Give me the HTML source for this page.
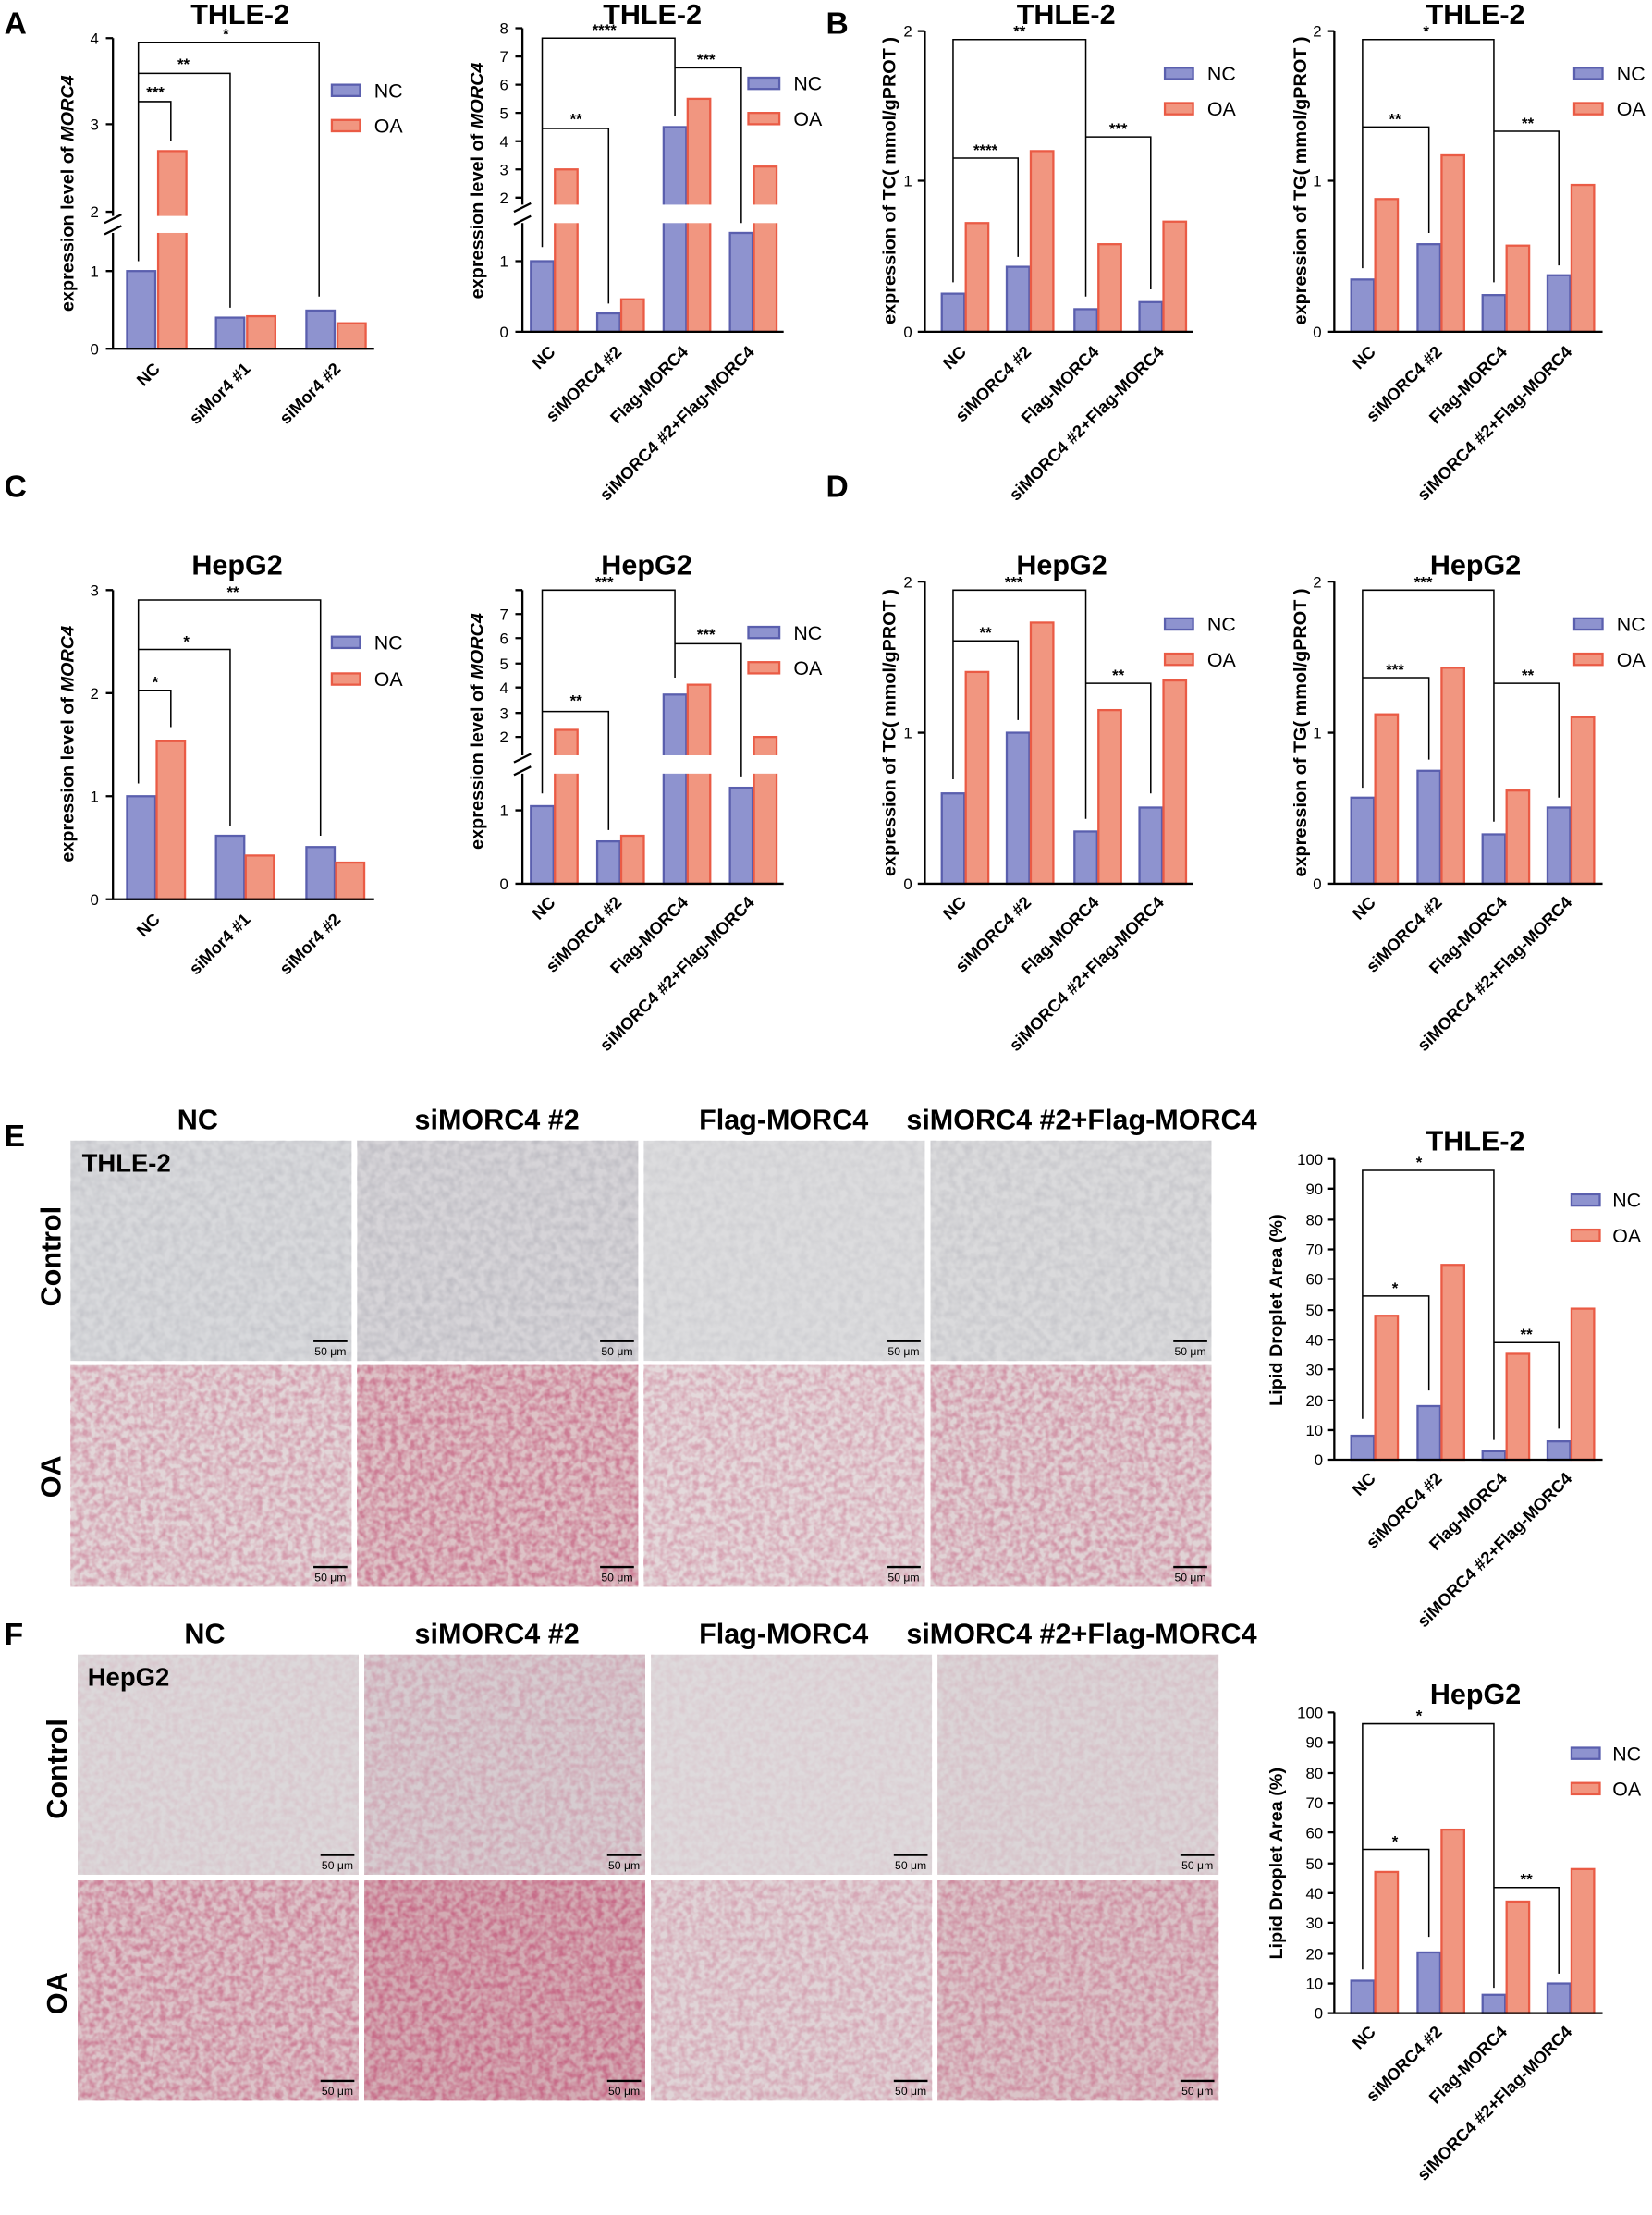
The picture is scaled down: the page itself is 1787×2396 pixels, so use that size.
<!DOCTYPE html>
<html><head><meta charset="utf-8"><style>
html,body{margin:0;padding:0;background:#fff}
svg{display:block}
text{font-family:"Liberation Sans",Arial,sans-serif;fill:#000}
.n{fill:#8e93cf;stroke:#5a5fae;stroke-width:1.5}
.o{fill:#f19680;stroke:#ea5b45;stroke-width:1.5}
.ax{stroke:#000;stroke-width:1.5;fill:none}
.br{stroke:#000;stroke-width:1;fill:none}
.t{font-size:20px;font-weight:bold}
.tk{font-size:11px}
.xl{font-size:12px;font-weight:bold}
.yl{font-size:13px;font-weight:bold}
.lg{font-size:14px}
.st{font-size:11px;font-weight:bold}
.pl{font-size:22px;font-weight:bold}
.h{font-size:20px;font-weight:bold}
</style></head><body>
<svg width="1787" height="2396" viewBox="0 0 1170 1569" preserveAspectRatio="none" xmlns="http://www.w3.org/2000/svg">
<defs>
<filter id="nz" x="0" y="0" width="100%" height="100%"><feTurbulence type="fractalNoise" baseFrequency="0.18" numOctaves="2" seed="3"/><feColorMatrix type="matrix" values="0 0 0 0 0.3  0 0 0 0 0.3  0 0 0 0 0.35  0 0 0 -1.6 1.1"/></filter>
<filter id="nr" x="0" y="0" width="100%" height="100%"><feTurbulence type="fractalNoise" baseFrequency="0.22" numOctaves="2" seed="7"/><feColorMatrix type="matrix" values="0 0 0 0 0.55  0 0 0 0 0.1  0 0 0 0 0.2  0 0 0 -2.2 1.5"/></filter>
</defs>

<text x="3" y="24" class="pl">A</text><text x="585" y="24" class="pl">B</text>
<text x="3" y="352" class="pl">C</text><text x="585" y="352" class="pl">D</text>
<text x="3" y="812" class="pl">E</text><text x="3" y="1165" class="pl">F</text>

<!-- ===== A1 ===== -->
<text x="170" y="17" class="t" text-anchor="middle">THLE-2</text>
<text transform="translate(52,137) rotate(-90)" class="yl" text-anchor="middle">expression level of <tspan font-style="italic">MORC4</tspan></text>
<rect x="90" y="192" width="20" height="55" class="n"/><rect x="112" y="107" width="20" height="140" class="o"/>
<rect x="153" y="225" width="20" height="22" class="n"/><rect x="175" y="224" width="20" height="23" class="o"/>
<rect x="217" y="220" width="20" height="27" class="n"/><rect x="239" y="229" width="20" height="18" class="o"/>
<rect x="82" y="153" width="185" height="12" fill="#fff"/>
<path class="ax" d="M80 27V153M80 165V247H265M75 247H80M75 192H80M75 150H80M75 88H80M75 27H80M74 158L86 152M74 166L86 160"/>
<text x="70" y="251" class="tk" text-anchor="end">0</text><text x="70" y="196" class="tk" text-anchor="end">1</text><text x="70" y="154" class="tk" text-anchor="end">2</text><text x="70" y="92" class="tk" text-anchor="end">3</text><text x="70" y="31" class="tk" text-anchor="end">4</text>
<path class="br" d="M98 185V30H226V210M98 185V52H163V218M98 185V72H121V100"/>
<text x="160" y="28" class="st" text-anchor="middle">*</text><text x="130" y="49" class="st" text-anchor="middle">**</text><text x="110" y="69" class="st" text-anchor="middle">***</text>
<text transform="translate(114,262) rotate(-45)" class="xl" text-anchor="end">NC</text>
<text transform="translate(178,262) rotate(-45)" class="xl" text-anchor="end">siMor4 #1</text>
<text transform="translate(242,262) rotate(-45)" class="xl" text-anchor="end">siMor4 #2</text>
<rect x="235" y="60" width="20" height="8" class="n"/><text x="265" y="69" class="lg">NC</text>
<rect x="235" y="85" width="20" height="8" class="o"/><text x="265" y="94" class="lg">OA</text>

<!-- ===== A2 ===== -->
<text x="462" y="17" class="t" text-anchor="middle">THLE-2</text>
<text transform="translate(342,128) rotate(-90)" class="yl" text-anchor="middle">expression level of <tspan font-style="italic">MORC4</tspan></text>
<rect x="376" y="185" width="16" height="50" class="n"/><rect x="393" y="120" width="16" height="115" class="o"/>
<rect x="423" y="222" width="16" height="13" class="n"/><rect x="440" y="212" width="16" height="23" class="o"/>
<rect x="470" y="90" width="16" height="145" class="n"/><rect x="487" y="70" width="16" height="165" class="o"/>
<rect x="517" y="165" width="16" height="70" class="n"/><rect x="534" y="118" width="16" height="117" class="o"/>
<rect x="372" y="145" width="185" height="13" fill="#fff"/>
<path class="ax" d="M370 20V145M370 158V235H555M365 235H370M365 185H370M365 140H370M365 120H370M365 100H370M365 80H370M365 60H370M365 40H370M365 20H370M364 150L376 144M364 159L376 153"/>
<text x="360" y="239" class="tk" text-anchor="end">0</text><text x="360" y="189" class="tk" text-anchor="end">1</text>
<text x="360" y="144" class="tk" text-anchor="end">2</text><text x="360" y="124" class="tk" text-anchor="end">3</text><text x="360" y="104" class="tk" text-anchor="end">4</text><text x="360" y="84" class="tk" text-anchor="end">5</text><text x="360" y="64" class="tk" text-anchor="end">6</text><text x="360" y="44" class="tk" text-anchor="end">7</text><text x="360" y="24" class="tk" text-anchor="end">8</text>
<path class="br" d="M384 175V27H478V82M384 175V91H431V215M478 80V48H525V158"/>
<text x="428" y="25" class="st" text-anchor="middle">****</text><text x="408" y="88" class="st" text-anchor="middle">**</text><text x="500" y="46" class="st" text-anchor="middle">***</text>
<text transform="translate(394,250) rotate(-45)" class="xl" text-anchor="end">NC</text>
<text transform="translate(441,250) rotate(-45)" class="xl" text-anchor="end">siMORC4 #2</text>
<text transform="translate(488,250) rotate(-45)" class="xl" text-anchor="end">Flag-MORC4</text>
<text transform="translate(535,250) rotate(-45)" class="xl" text-anchor="end">siMORC4 #2+Flag-MORC4</text>
<rect x="530" y="55" width="22" height="8" class="n"/><text x="562" y="64" class="lg">NC</text>
<rect x="530" y="80" width="22" height="8" class="o"/><text x="562" y="89" class="lg">OA</text>

<!-- ===== B1 ===== -->
<text x="755" y="17" class="t" text-anchor="middle">THLE-2</text>
<text transform="translate(634,128) rotate(-90)" class="yl" text-anchor="middle">expression of TC( mmol/gPROT )</text>
<rect x="667" y="208" width="16" height="27" class="n"/><rect x="684" y="158" width="16" height="77" class="o"/>
<rect x="713" y="189" width="16" height="46" class="n"/><rect x="730" y="107" width="16" height="128" class="o"/>
<rect x="761" y="219" width="16" height="16" class="n"/><rect x="778" y="173" width="16" height="62" class="o"/>
<rect x="807" y="214" width="16" height="21" class="n"/><rect x="824" y="157" width="16" height="78" class="o"/>
<path class="ax" d="M655 22V235H845M650 235H655M650 128H655M650 22H655"/>
<text x="646" y="239" class="tk" text-anchor="end">0</text><text x="646" y="132" class="tk" text-anchor="end">1</text><text x="646" y="26" class="tk" text-anchor="end">2</text>
<path class="br" d="M675 200V28H769V210M675 200V112H721V182M769 210V97H815V205"/>
<text x="722" y="26" class="st" text-anchor="middle">**</text><text x="698" y="110" class="st" text-anchor="middle">****</text><text x="792" y="95" class="st" text-anchor="middle">***</text>
<text transform="translate(685,250) rotate(-45)" class="xl" text-anchor="end">NC</text>
<text transform="translate(731,250) rotate(-45)" class="xl" text-anchor="end">siMORC4 #2</text>
<text transform="translate(779,250) rotate(-45)" class="xl" text-anchor="end">Flag-MORC4</text>
<text transform="translate(825,250) rotate(-45)" class="xl" text-anchor="end">siMORC4 #2+Flag-MORC4</text>
<rect x="825" y="48" width="20" height="8" class="n"/><text x="855" y="57" class="lg">NC</text>
<rect x="825" y="73" width="20" height="8" class="o"/><text x="855" y="82" class="lg">OA</text>

<!-- ===== B2 ===== -->
<text x="1045" y="17" class="t" text-anchor="middle">THLE-2</text>
<text transform="translate(925,128) rotate(-90)" class="yl" text-anchor="middle">expression of TG( mmol/gPROT )</text>
<rect x="957" y="198" width="16" height="37" class="n"/><rect x="974" y="141" width="16" height="94" class="o"/>
<rect x="1004" y="173" width="16" height="62" class="n"/><rect x="1021" y="110" width="16" height="125" class="o"/>
<rect x="1050" y="209" width="16" height="26" class="n"/><rect x="1067" y="174" width="16" height="61" class="o"/>
<rect x="1096" y="195" width="16" height="40" class="n"/><rect x="1113" y="131" width="16" height="104" class="o"/>
<path class="ax" d="M945 22V235H1135M940 235H945M940 128H945M940 22H945"/>
<text x="936" y="239" class="tk" text-anchor="end">0</text><text x="936" y="132" class="tk" text-anchor="end">1</text><text x="936" y="26" class="tk" text-anchor="end">2</text>
<path class="br" d="M965 190V28H1058V200M965 190V90H1012V165M1058 200V93H1104V188"/>
<text x="1010" y="26" class="st" text-anchor="middle">*</text><text x="988" y="88" class="st" text-anchor="middle">**</text><text x="1082" y="91" class="st" text-anchor="middle">**</text>
<text transform="translate(975,250) rotate(-45)" class="xl" text-anchor="end">NC</text>
<text transform="translate(1022,250) rotate(-45)" class="xl" text-anchor="end">siMORC4 #2</text>
<text transform="translate(1068,250) rotate(-45)" class="xl" text-anchor="end">Flag-MORC4</text>
<text transform="translate(1114,250) rotate(-45)" class="xl" text-anchor="end">siMORC4 #2+Flag-MORC4</text>
<rect x="1115" y="48" width="20" height="8" class="n"/><text x="1145" y="57" class="lg">NC</text>
<rect x="1115" y="73" width="20" height="8" class="o"/><text x="1145" y="82" class="lg">OA</text>

<!-- ===== C1 ===== -->
<text x="168" y="407" class="t" text-anchor="middle">HepG2</text>
<text transform="translate(52,527) rotate(-90)" class="yl" text-anchor="middle">expression level of <tspan font-style="italic">MORC4</tspan></text>
<rect x="90" y="564" width="20" height="73" class="n"/><rect x="111" y="525" width="20" height="112" class="o"/>
<rect x="153" y="592" width="20" height="45" class="n"/><rect x="174" y="606" width="20" height="31" class="o"/>
<rect x="217" y="600" width="20" height="37" class="n"/><rect x="238" y="611" width="20" height="26" class="o"/>
<path class="ax" d="M80 418V637H265M75 637H80M75 564H80M75 491H80M75 418H80"/>
<text x="70" y="641" class="tk" text-anchor="end">0</text><text x="70" y="568" class="tk" text-anchor="end">1</text><text x="70" y="495" class="tk" text-anchor="end">2</text><text x="70" y="422" class="tk" text-anchor="end">3</text>
<path class="br" d="M98 555V425H227V592M98 555V460H163V585M98 555V489H121V515"/>
<text x="165" y="423" class="st" text-anchor="middle">**</text><text x="132" y="458" class="st" text-anchor="middle">*</text><text x="110" y="487" class="st" text-anchor="middle">*</text>
<text transform="translate(114,652) rotate(-45)" class="xl" text-anchor="end">NC</text>
<text transform="translate(178,652) rotate(-45)" class="xl" text-anchor="end">siMor4 #1</text>
<text transform="translate(242,652) rotate(-45)" class="xl" text-anchor="end">siMor4 #2</text>
<rect x="235" y="451" width="20" height="8" class="n"/><text x="265" y="460" class="lg">NC</text>
<rect x="235" y="477" width="20" height="8" class="o"/><text x="265" y="486" class="lg">OA</text>

<!-- ===== C2 ===== -->
<text x="458" y="407" class="t" text-anchor="middle">HepG2</text>
<text transform="translate(342,518) rotate(-90)" class="yl" text-anchor="middle">expression level of <tspan font-style="italic">MORC4</tspan></text>
<rect x="376" y="571" width="16" height="55" class="n"/><rect x="393" y="517" width="16" height="109" class="o"/>
<rect x="423" y="596" width="16" height="30" class="n"/><rect x="440" y="592" width="16" height="34" class="o"/>
<rect x="470" y="492" width="16" height="134" class="n"/><rect x="487" y="485" width="16" height="141" class="o"/>
<rect x="517" y="558" width="16" height="68" class="n"/><rect x="534" y="522" width="16" height="104" class="o"/>
<rect x="372" y="535" width="185" height="13" fill="#fff"/>
<path class="ax" d="M370 418V535M370 548V626H555M365 626H370M365 574H370M365 522H370M365 505H370M365 487H370M365 470H370M365 452H370M365 435H370M365 418H370M364 540L376 534M364 549L376 543"/>
<text x="360" y="630" class="tk" text-anchor="end">0</text><text x="360" y="578" class="tk" text-anchor="end">1</text><text x="360" y="526" class="tk" text-anchor="end">2</text><text x="360" y="509" class="tk" text-anchor="end">3</text><text x="360" y="491" class="tk" text-anchor="end">4</text><text x="360" y="474" class="tk" text-anchor="end">5</text><text x="360" y="456" class="tk" text-anchor="end">6</text><text x="360" y="439" class="tk" text-anchor="end">7</text>
<path class="br" d="M384 562V418H478V480M384 562V504H431V588M478 478V456H525V550"/>
<text x="428" y="416" class="st" text-anchor="middle">***</text><text x="408" y="500" class="st" text-anchor="middle">**</text><text x="500" y="453" class="st" text-anchor="middle">***</text>
<text transform="translate(394,640) rotate(-45)" class="xl" text-anchor="end">NC</text>
<text transform="translate(441,640) rotate(-45)" class="xl" text-anchor="end">siMORC4 #2</text>
<text transform="translate(488,640) rotate(-45)" class="xl" text-anchor="end">Flag-MORC4</text>
<text transform="translate(535,640) rotate(-45)" class="xl" text-anchor="end">siMORC4 #2+Flag-MORC4</text>
<rect x="530" y="444" width="22" height="8" class="n"/><text x="562" y="453" class="lg">NC</text>
<rect x="530" y="469" width="22" height="8" class="o"/><text x="562" y="478" class="lg">OA</text>

<!-- ===== D1 ===== -->
<text x="752" y="407" class="t" text-anchor="middle">HepG2</text>
<text transform="translate(634,519) rotate(-90)" class="yl" text-anchor="middle">expression of TC( mmol/gPROT )</text>
<rect x="667" y="562" width="16" height="64" class="n"/><rect x="684" y="476" width="16" height="150" class="o"/>
<rect x="713" y="519" width="16" height="107" class="n"/><rect x="730" y="441" width="16" height="185" class="o"/>
<rect x="761" y="589" width="16" height="37" class="n"/><rect x="778" y="503" width="16" height="123" class="o"/>
<rect x="807" y="572" width="16" height="54" class="n"/><rect x="824" y="482" width="16" height="144" class="o"/>
<path class="ax" d="M655 412V626H845M650 626H655M650 519H655M650 412H655"/>
<text x="646" y="630" class="tk" text-anchor="end">0</text><text x="646" y="523" class="tk" text-anchor="end">1</text><text x="646" y="416" class="tk" text-anchor="end">2</text>
<path class="br" d="M675 552V418H769V580M675 552V454H721V510M769 580V484H815V562"/>
<text x="718" y="416" class="st" text-anchor="middle">***</text><text x="698" y="452" class="st" text-anchor="middle">**</text><text x="792" y="482" class="st" text-anchor="middle">**</text>
<text transform="translate(685,640) rotate(-45)" class="xl" text-anchor="end">NC</text>
<text transform="translate(731,640) rotate(-45)" class="xl" text-anchor="end">siMORC4 #2</text>
<text transform="translate(779,640) rotate(-45)" class="xl" text-anchor="end">Flag-MORC4</text>
<text transform="translate(825,640) rotate(-45)" class="xl" text-anchor="end">siMORC4 #2+Flag-MORC4</text>
<rect x="825" y="438" width="20" height="8" class="n"/><text x="855" y="447" class="lg">NC</text>
<rect x="825" y="463" width="20" height="8" class="o"/><text x="855" y="472" class="lg">OA</text>

<!-- ===== D2 ===== -->
<text x="1045" y="407" class="t" text-anchor="middle">HepG2</text>
<text transform="translate(925,519) rotate(-90)" class="yl" text-anchor="middle">expression of TG( mmol/gPROT )</text>
<rect x="957" y="565" width="16" height="61" class="n"/><rect x="974" y="506" width="16" height="120" class="o"/>
<rect x="1004" y="546" width="16" height="80" class="n"/><rect x="1021" y="473" width="16" height="153" class="o"/>
<rect x="1050" y="591" width="16" height="35" class="n"/><rect x="1067" y="560" width="16" height="66" class="o"/>
<rect x="1096" y="572" width="16" height="54" class="n"/><rect x="1113" y="508" width="16" height="118" class="o"/>
<path class="ax" d="M945 412V626H1135M940 626H945M940 519H945M940 412H945"/>
<text x="936" y="630" class="tk" text-anchor="end">0</text><text x="936" y="523" class="tk" text-anchor="end">1</text><text x="936" y="416" class="tk" text-anchor="end">2</text>
<path class="br" d="M965 558V418H1058V582M965 558V480H1012V538M1058 582V484H1104V565"/>
<text x="1008" y="416" class="st" text-anchor="middle">***</text><text x="988" y="478" class="st" text-anchor="middle">***</text><text x="1082" y="482" class="st" text-anchor="middle">**</text>
<text transform="translate(975,640) rotate(-45)" class="xl" text-anchor="end">NC</text>
<text transform="translate(1022,640) rotate(-45)" class="xl" text-anchor="end">siMORC4 #2</text>
<text transform="translate(1068,640) rotate(-45)" class="xl" text-anchor="end">Flag-MORC4</text>
<text transform="translate(1114,640) rotate(-45)" class="xl" text-anchor="end">siMORC4 #2+Flag-MORC4</text>
<rect x="1115" y="438" width="20" height="8" class="n"/><text x="1145" y="447" class="lg">NC</text>
<rect x="1115" y="463" width="20" height="8" class="o"/><text x="1145" y="472" class="lg">OA</text>

<!-- ===== E images ===== -->
<text x="140" y="800" class="h" text-anchor="middle">NC</text>
<text x="352" y="800" class="h" text-anchor="middle">siMORC4 #2</text>
<text x="555" y="800" class="h" text-anchor="middle">Flag-MORC4</text>
<text x="766" y="800" class="h" text-anchor="middle">siMORC4 #2+Flag-MORC4</text>
<text transform="translate(43,890) rotate(-90)" class="h" text-anchor="middle">Control</text>
<text transform="translate(43,1046) rotate(-90)" class="h" text-anchor="middle">OA</text>
<rect x="50" y="808" width="199" height="156" fill="#d8d9dc"/><rect x="50" y="808" width="199" height="156" filter="url(#nz)" opacity="0.3"/>
<rect x="253" y="808" width="199" height="156" fill="#d6d4d8"/><rect x="253" y="808" width="199" height="156" filter="url(#nz)" opacity="0.4"/>
<rect x="456" y="808" width="199" height="156" fill="#dcdcde"/><rect x="456" y="808" width="199" height="156" filter="url(#nz)" opacity="0.2"/>
<rect x="659" y="808" width="199" height="156" fill="#dadadc"/><rect x="659" y="808" width="199" height="156" filter="url(#nz)" opacity="0.3"/>
<rect x="50" y="967" width="199" height="157" fill="#e2d6d8"/><rect x="50" y="967" width="199" height="157" filter="url(#nr)" opacity="0.45"/>
<rect x="253" y="967" width="199" height="157" fill="#ddc2c6"/><rect x="253" y="967" width="199" height="157" filter="url(#nr)" opacity="0.65"/>
<rect x="456" y="967" width="199" height="157" fill="#e4d9db"/><rect x="456" y="967" width="199" height="157" filter="url(#nr)" opacity="0.4"/>
<rect x="659" y="967" width="199" height="157" fill="#e0d3d5"/><rect x="659" y="967" width="199" height="157" filter="url(#nr)" opacity="0.5"/>
<text x="58" y="830" class="h" style="font-size:18px">THLE-2</text>
<path d="M222 950h24M425 950h24M628 950h24M831 950h24M222 1110h24M425 1110h24M628 1110h24M831 1110h24" stroke="#000" stroke-width="1.5"/>
<g class="tk" style="font-size:8px" text-anchor="middle">
<text x="234" y="960">50 μm</text><text x="437" y="960">50 μm</text><text x="640" y="960">50 μm</text><text x="843" y="960">50 μm</text>
<text x="234" y="1120">50 μm</text><text x="437" y="1120">50 μm</text><text x="640" y="1120">50 μm</text><text x="843" y="1120">50 μm</text>
</g>

<!-- ===== E chart ===== -->
<text x="1045" y="815" class="t" text-anchor="middle">THLE-2</text>
<text transform="translate(908,928) rotate(-90)" class="yl" text-anchor="middle">Lipid Droplet Area (%)</text>
<rect x="957" y="1017" width="16" height="17" class="n"/><rect x="974" y="932" width="16" height="102" class="o"/>
<rect x="1004" y="996" width="16" height="38" class="n"/><rect x="1021" y="896" width="16" height="138" class="o"/>
<rect x="1050" y="1028" width="16" height="6" class="n"/><rect x="1067" y="959" width="16" height="75" class="o"/>
<rect x="1096" y="1021" width="16" height="13" class="n"/><rect x="1113" y="927" width="16" height="107" class="o"/>
<path class="ax" d="M945 821V1034H1135M940 1034H945M940 1013H945M940 992H945M940 970H945M940 949H945M940 928H945M940 906H945M940 885H945M940 864H945M940 842H945M940 821H945"/>
<g class="tk" text-anchor="end"><text x="937" y="1038">0</text><text x="937" y="1017">10</text><text x="937" y="996">20</text><text x="937" y="974">30</text><text x="937" y="953">40</text><text x="937" y="932">50</text><text x="937" y="910">60</text><text x="937" y="889">70</text><text x="937" y="868">80</text><text x="937" y="846">90</text><text x="937" y="825">100</text></g>
<path class="br" d="M965 1005V829H1058V1020M965 1005V918H1012V985M1058 1020V951H1104V1012"/>
<text x="1005" y="827" class="st" text-anchor="middle">*</text><text x="988" y="916" class="st" text-anchor="middle">*</text><text x="1081" y="949" class="st" text-anchor="middle">**</text>
<text transform="translate(975,1048) rotate(-45)" class="xl" text-anchor="end">NC</text>
<text transform="translate(1022,1048) rotate(-45)" class="xl" text-anchor="end">siMORC4 #2</text>
<text transform="translate(1068,1048) rotate(-45)" class="xl" text-anchor="end">Flag-MORC4</text>
<text transform="translate(1114,1048) rotate(-45)" class="xl" text-anchor="end">siMORC4 #2+Flag-MORC4</text>
<rect x="1113" y="846" width="20" height="8" class="n"/><text x="1142" y="855" class="lg">NC</text>
<rect x="1113" y="871" width="20" height="8" class="o"/><text x="1142" y="880" class="lg">OA</text>

<!-- ===== F images ===== -->
<text x="145" y="1164" class="h" text-anchor="middle">NC</text>
<text x="352" y="1164" class="h" text-anchor="middle">siMORC4 #2</text>
<text x="555" y="1164" class="h" text-anchor="middle">Flag-MORC4</text>
<text x="766" y="1164" class="h" text-anchor="middle">siMORC4 #2+Flag-MORC4</text>
<text transform="translate(47,1253) rotate(-90)" class="h" text-anchor="middle">Control</text>
<text transform="translate(47,1412) rotate(-90)" class="h" text-anchor="middle">OA</text>
<rect x="55" y="1172" width="199" height="156" fill="#dcd8da"/><rect x="55" y="1172" width="199" height="156" filter="url(#nr)" opacity="0.12"/>
<rect x="258" y="1172" width="199" height="156" fill="#d6ccd0"/><rect x="258" y="1172" width="199" height="156" filter="url(#nr)" opacity="0.3"/>
<rect x="461" y="1172" width="199" height="156" fill="#dedadc"/><rect x="461" y="1172" width="199" height="156" filter="url(#nr)" opacity="0.1"/>
<rect x="664" y="1172" width="199" height="156" fill="#dbd5d7"/><rect x="664" y="1172" width="199" height="156" filter="url(#nr)" opacity="0.15"/>
<rect x="55" y="1332" width="199" height="156" fill="#dcc4c9"/><rect x="55" y="1332" width="199" height="156" filter="url(#nr)" opacity="0.6"/>
<rect x="258" y="1332" width="199" height="156" fill="#d3acb4"/><rect x="258" y="1332" width="199" height="156" filter="url(#nr)" opacity="0.75"/>
<rect x="461" y="1332" width="199" height="156" fill="#e0d4d7"/><rect x="461" y="1332" width="199" height="156" filter="url(#nr)" opacity="0.35"/>
<rect x="664" y="1332" width="199" height="156" fill="#dac4c8"/><rect x="664" y="1332" width="199" height="156" filter="url(#nr)" opacity="0.5"/>
<text x="62" y="1194" class="h" style="font-size:18px">HepG2</text>
<path d="M227 1314h24M430 1314h24M633 1314h24M836 1314h24M227 1474h24M430 1474h24M633 1474h24M836 1474h24" stroke="#000" stroke-width="1.5"/>
<g class="tk" style="font-size:8px" text-anchor="middle">
<text x="239" y="1324">50 μm</text><text x="442" y="1324">50 μm</text><text x="645" y="1324">50 μm</text><text x="848" y="1324">50 μm</text>
<text x="239" y="1484">50 μm</text><text x="442" y="1484">50 μm</text><text x="645" y="1484">50 μm</text><text x="848" y="1484">50 μm</text>
</g>

<!-- ===== F chart ===== -->
<text x="1045" y="1207" class="t" text-anchor="middle">HepG2</text>
<text transform="translate(908,1320) rotate(-90)" class="yl" text-anchor="middle">Lipid Droplet Area (%)</text>
<rect x="957" y="1403" width="16" height="23" class="n"/><rect x="974" y="1326" width="16" height="100" class="o"/>
<rect x="1004" y="1383" width="16" height="43" class="n"/><rect x="1021" y="1296" width="16" height="130" class="o"/>
<rect x="1050" y="1413" width="16" height="13" class="n"/><rect x="1067" y="1347" width="16" height="79" class="o"/>
<rect x="1096" y="1405" width="16" height="21" class="n"/><rect x="1113" y="1324" width="16" height="102" class="o"/>
<path class="ax" d="M945 1213V1426H1135M940 1426H945M940 1405H945M940 1384H945M940 1362H945M940 1341H945M940 1320H945M940 1298H945M940 1277H945M940 1256H945M940 1234H945M940 1213H945"/>
<g class="tk" text-anchor="end"><text x="937" y="1430">0</text><text x="937" y="1409">10</text><text x="937" y="1388">20</text><text x="937" y="1366">30</text><text x="937" y="1345">40</text><text x="937" y="1324">50</text><text x="937" y="1302">60</text><text x="937" y="1281">70</text><text x="937" y="1260">80</text><text x="937" y="1238">90</text><text x="937" y="1217">100</text></g>
<path class="br" d="M965 1395V1221H1058V1408M965 1395V1310H1012V1372M1058 1408V1337H1104V1398"/>
<text x="1005" y="1219" class="st" text-anchor="middle">*</text><text x="988" y="1308" class="st" text-anchor="middle">*</text><text x="1081" y="1335" class="st" text-anchor="middle">**</text>
<text transform="translate(975,1440) rotate(-45)" class="xl" text-anchor="end">NC</text>
<text transform="translate(1022,1440) rotate(-45)" class="xl" text-anchor="end">siMORC4 #2</text>
<text transform="translate(1068,1440) rotate(-45)" class="xl" text-anchor="end">Flag-MORC4</text>
<text transform="translate(1114,1440) rotate(-45)" class="xl" text-anchor="end">siMORC4 #2+Flag-MORC4</text>
<rect x="1113" y="1238" width="20" height="8" class="n"/><text x="1142" y="1247" class="lg">NC</text>
<rect x="1113" y="1263" width="20" height="8" class="o"/><text x="1142" y="1272" class="lg">OA</text>
</svg>
</body></html>
